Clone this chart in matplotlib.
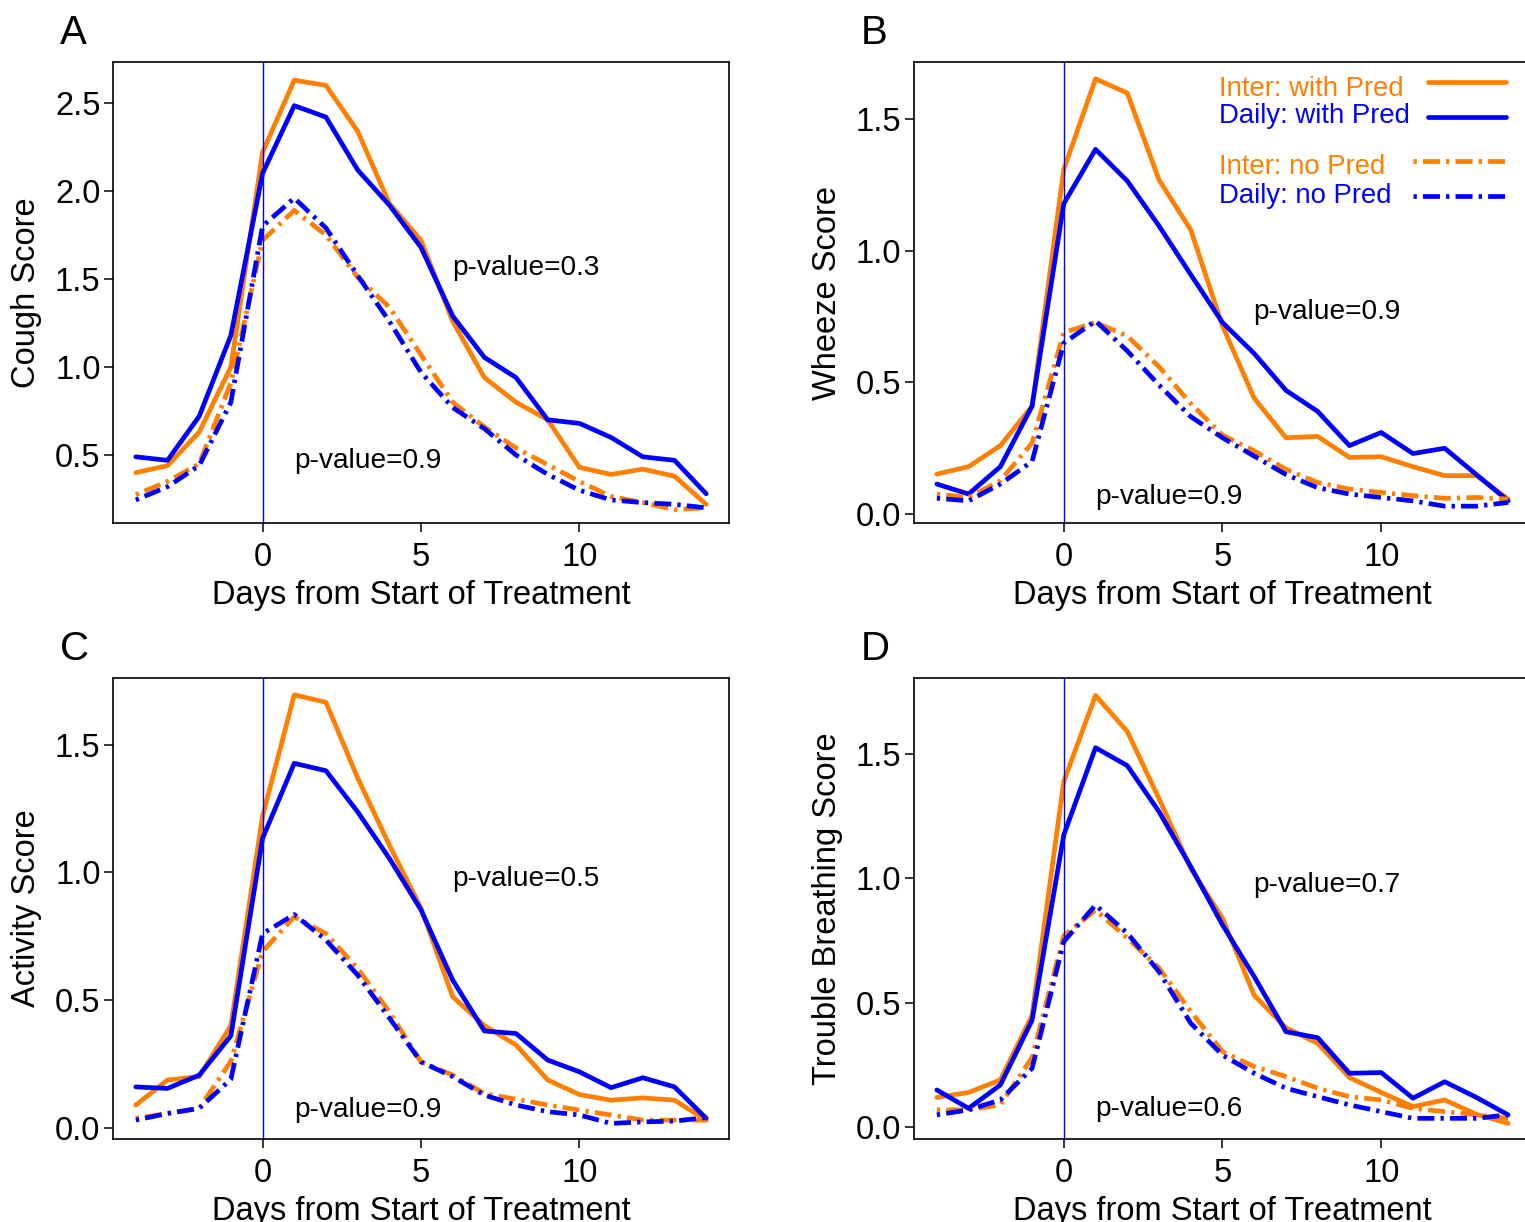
import matplotlib
matplotlib.use("Agg")
import matplotlib.pyplot as plt

plt.rcParams['font.family'] = ['Liberation Sans', 'DejaVu Sans']

days = [-4, -3, -2, -1, 0, 1, 2, 3, 4, 5, 6, 7, 8, 9, 10, 11, 12, 13, 14]

# Panel A: Cough Score
cough_inter_pred = [0.40, 0.44, 0.63, 1.00, 2.22, 2.63, 2.60, 2.34, 1.93, 1.72, 1.26, 0.94, 0.80, 0.70, 0.43, 0.39, 0.42, 0.38, 0.22]
cough_daily_pred = [0.49, 0.47, 0.72, 1.18, 2.10, 2.485, 2.42, 2.12, 1.92, 1.68, 1.29, 1.055, 0.94, 0.70, 0.68, 0.60, 0.49, 0.47, 0.28]
cough_inter_nopred = [0.275, 0.35, 0.45, 0.91, 1.72, 1.89, 1.75, 1.51, 1.34, 1.07, 0.80, 0.66, 0.54, 0.445, 0.35, 0.265, 0.23, 0.19, 0.20]
cough_daily_nopred = [0.245, 0.32, 0.44, 0.80, 1.80, 1.96, 1.79, 1.52, 1.26, 0.97, 0.77, 0.65, 0.50, 0.39, 0.30, 0.245, 0.23, 0.22, 0.20]

# Panel B: Wheeze Score
wheeze_inter_pred = [0.152, 0.18, 0.26, 0.41, 1.31, 1.654, 1.60, 1.27, 1.08, 0.715, 0.44, 0.29, 0.295, 0.215, 0.218, 0.18, 0.146, 0.146, 0.057]
wheeze_daily_pred = [0.114, 0.076, 0.18, 0.41, 1.18, 1.386, 1.266, 1.095, 0.91, 0.728, 0.61, 0.47, 0.39, 0.26, 0.31, 0.23, 0.25, 0.15, 0.05]
wheeze_inter_nopred = [0.076, 0.063, 0.127, 0.27, 0.69, 0.728, 0.677, 0.56, 0.42, 0.30, 0.24, 0.17, 0.12, 0.095, 0.082, 0.07, 0.06, 0.063, 0.057]
wheeze_daily_nopred = [0.06, 0.05, 0.114, 0.20, 0.65, 0.734, 0.62, 0.49, 0.37, 0.29, 0.22, 0.15, 0.10, 0.076, 0.063, 0.05, 0.03, 0.03, 0.044]

# Panel C: Activity Score
activity_inter_pred = [0.089, 0.187, 0.20, 0.40, 1.22, 1.695, 1.666, 1.37, 1.107, 0.86, 0.513, 0.40, 0.324, 0.187, 0.13, 0.108, 0.117, 0.108, 0.03]
activity_daily_pred = [0.16, 0.154, 0.206, 0.36, 1.133, 1.427, 1.398, 1.237, 1.055, 0.853, 0.578, 0.379, 0.369, 0.265, 0.219, 0.157, 0.196, 0.16, 0.037]
activity_inter_nopred = [0.037, 0.056, 0.076, 0.26, 0.69, 0.826, 0.76, 0.624, 0.454, 0.258, 0.206, 0.134, 0.112, 0.089, 0.069, 0.05, 0.03, 0.03, 0.03]
activity_daily_nopred = [0.03, 0.056, 0.076, 0.19, 0.76, 0.835, 0.735, 0.598, 0.43, 0.258, 0.20, 0.128, 0.089, 0.063, 0.05, 0.017, 0.023, 0.026, 0.04]

# Panel D: Trouble Breathing Score
breath_inter_pred = [0.12, 0.14, 0.19, 0.45, 1.39, 1.735, 1.59, 1.32, 1.04, 0.84, 0.53, 0.40, 0.337, 0.20, 0.14, 0.083, 0.11, 0.052, 0.016]
breath_daily_pred = [0.15, 0.076, 0.17, 0.43, 1.175, 1.525, 1.453, 1.268, 1.047, 0.813, 0.605, 0.384, 0.36, 0.217, 0.22, 0.117, 0.183, 0.12, 0.05]
breath_inter_nopred = [0.07, 0.07, 0.09, 0.28, 0.77, 0.873, 0.76, 0.64, 0.465, 0.304, 0.244, 0.204, 0.157, 0.123, 0.11, 0.076, 0.063, 0.05, 0.036]
breath_daily_nopred = [0.05, 0.07, 0.11, 0.237, 0.746, 0.893, 0.78, 0.625, 0.418, 0.29, 0.217, 0.157, 0.123, 0.09, 0.063, 0.036, 0.036, 0.036, 0.05]

panel_letters = ["A", "B", "C", "D"]
ylabels = ["Cough Score", "Wheeze Score", "Activity Score", "Trouble Breathing Score"]
xlabel = "Days from Start of Treatment"
xticks = [0, 5, 10]
yticks_list = [[0.5, 1.0, 1.5, 2.0, 2.5], [0.0, 0.5, 1.0, 1.5], [0.0, 0.5, 1.0, 1.5], [0.0, 0.5, 1.0, 1.5]]
ylims = [(0.114, 2.733), (-0.034, 1.718), (-0.044, 1.761), (-0.047, 1.805)]
pvalues_pred = ["p-value=0.3", "p-value=0.9", "p-value=0.5", "p-value=0.7"]
pvalues_nopred = ["p-value=0.9", "p-value=0.9", "p-value=0.9", "p-value=0.6"]
ptext_pred_pos = [(8.3, 1.523), (8.3, 0.743), (8.3, 0.947), (8.3, 0.947)]
ptext_nopred_pos = [(3.33, 0.4245), (3.3, 0.038), (3.33, 0.043), (3.3, 0.047)]
legend_labels = ["Inter: with Pred", "Daily: with Pred", "Inter: no Pred", "Daily: no Pred"]

series = [
    (cough_inter_pred, cough_daily_pred, cough_inter_nopred, cough_daily_nopred),
    (wheeze_inter_pred, wheeze_daily_pred, wheeze_inter_nopred, wheeze_daily_nopred),
    (activity_inter_pred, activity_daily_pred, activity_inter_nopred, activity_daily_nopred),
    (breath_inter_pred, breath_daily_pred, breath_inter_nopred, breath_daily_nopred),
]

ORANGE = "#FF7F00"
BLUE = "#0000FF"
LW = 3.4
DOTDASH = (0, (0.7, 1.3, 3.6, 1.3))

W, H = 1525, 1222
fig = plt.figure(figsize=(W / 100, H / 100), dpi=100)

# axes boxes in pixels: (left, top, right, bottom)
boxes = [(113, 62, 729, 523), (914, 62, 1531, 523), (113, 678, 729, 1139), (914, 678, 1531, 1139)]

for i, (l, t, r, b) in enumerate(boxes):
    ax = fig.add_axes([l / W, (H - b) / H, (r - l) / W, (b - t) / H])
    ip, dp, inp, dnp = series[i]
    ax.plot(days, ip, color=ORANGE, lw=LW, solid_capstyle='round', solid_joinstyle='round', zorder=2)
    ax.plot(days, dp, color=BLUE, lw=LW, solid_capstyle='round', solid_joinstyle='round', zorder=3)
    ax.plot(days, inp, color=ORANGE, lw=LW, linestyle=DOTDASH, dash_joinstyle='round', zorder=4)
    ax.plot(days, dnp, color=BLUE, lw=LW, linestyle=DOTDASH, dash_joinstyle='round', zorder=5)
    ax.axvline(0, color=BLUE, lw=1.0, zorder=6)

    ax.set_xlim(-4.72, 14.72)
    ax.set_ylim(*ylims[i])
    ax.set_xticks(xticks)
    ax.set_xticklabels([str(v) for v in xticks])
    ax.set_yticks(yticks_list[i])
    ax.set_yticklabels([f"{v:.1f}" for v in yticks_list[i]])
    ax.tick_params(axis='both', direction='out', length=6.5, width=1.1, labelsize=23.5, color='black')
    ax.tick_params(axis='x', pad=7.5)
    ax.tick_params(axis='y', pad=2.5)
    for s in ax.spines.values():
        s.set_linewidth(1.2)
        s.set_color('black')

    ax.set_xlabel(xlabel, fontsize=23.5)
    ax.xaxis.set_label_coords(0.5, -57 / (b - t))
    ax.set_ylabel(ylabels[i], fontsize=23.5)
    ax.yaxis.set_label_coords(-71 / (r - l), 0.5)

    ax.text(*ptext_pred_pos[i], pvalues_pred[i], fontsize=20.2, ha='center', va='baseline')
    ax.text(*ptext_nopred_pos[i], pvalues_nopred[i], fontsize=20.2, ha='center', va='baseline')

    fig.text((l - 53) / W, (H - (t - 18)) / H, panel_letters[i], fontsize=29, ha='left', va='baseline')

    if i == 1:
        tx = (1219 - l) / (r - l)
        text_y = [96, 123, 174, 203]
        line_y = [82, 117, 161, 196]
        line_x = [(1428, 1506), (1428, 1506), (1413, 1505), (1413, 1505)]
        cols = [ORANGE, BLUE, ORANGE, BLUE]
        styles = ['-', '-', DOTDASH, DOTDASH]
        for k in range(4):
            ax.text(tx, (b - text_y[k]) / (b - t), legend_labels[k], color=cols[k], fontsize=19.8,
                    ha='left', va='baseline', transform=ax.transAxes)
            x0, x1 = line_x[k]
            ax.plot([(x0 - l) / (r - l), (x1 - l) / (r - l)],
                    [(b - line_y[k]) / (b - t)] * 2, color=cols[k], lw=LW, linestyle=styles[k],
                    solid_capstyle='round', transform=ax.transAxes, clip_on=False)

fig.savefig("out.png", dpi=100)
